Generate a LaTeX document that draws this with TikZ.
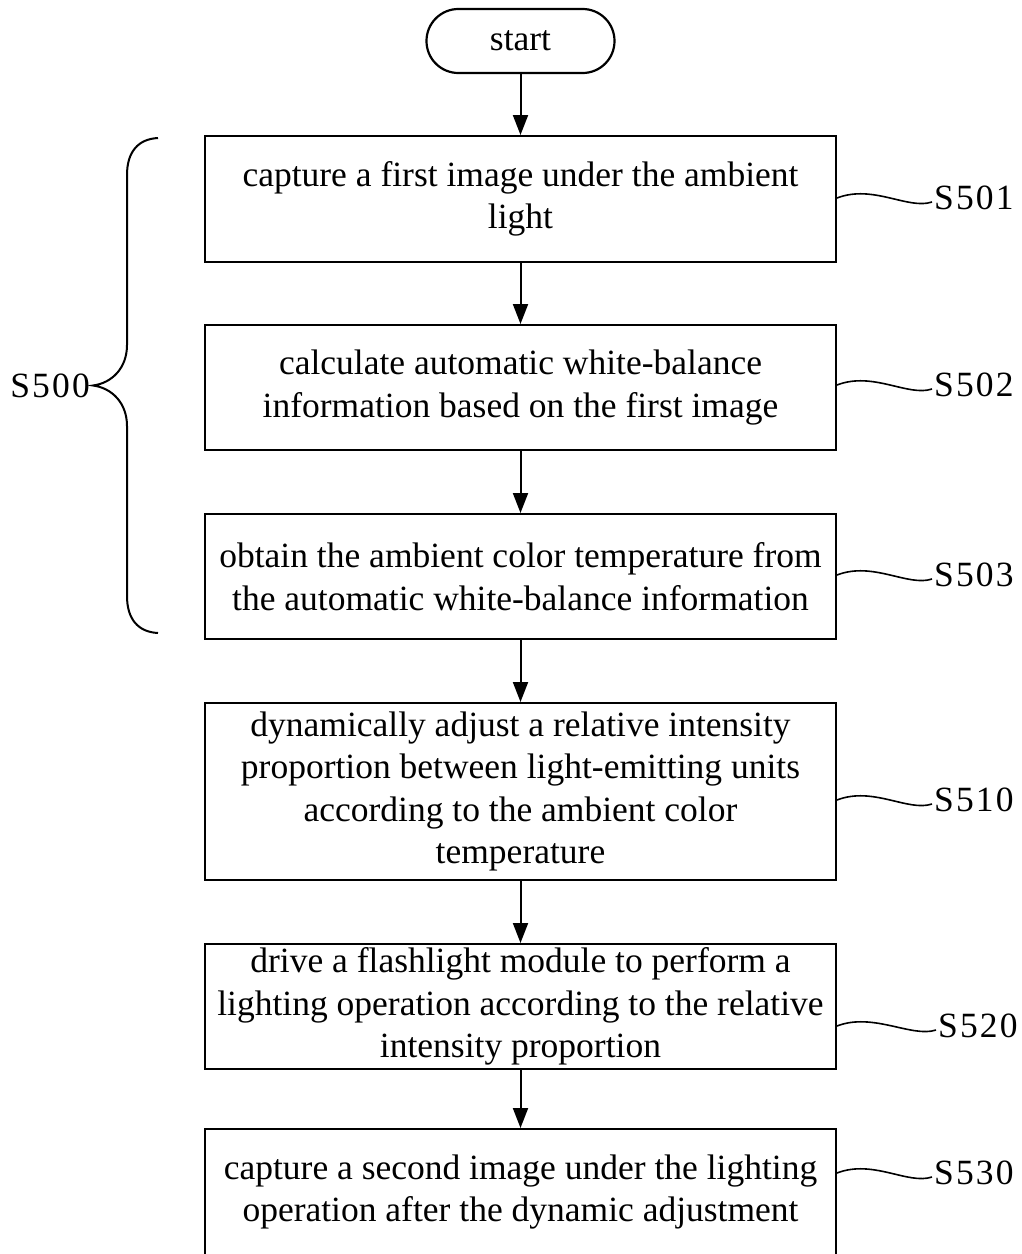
\documentclass[tikz,border=0pt]{standalone}
\usepackage{fontspec}
\setmainfont{Liberation Serif}
\newfontfamily\tagfont[LetterSpace=6]{Liberation Serif}
\usetikzlibrary{arrows.meta,calc}
\begin{document}
\begin{tikzpicture}[x=1pt,y=-1pt,
  every node/.style={font=\fontsize{35.5}{42.5}\selectfont},
  stepbox/.style={draw,line width=2pt,minimum width=631pt,align=center,inner sep=0pt},
  term/.style={draw,line width=2.2pt,rounded corners=31.9pt,minimum width=188pt,minimum height=64pt,inner sep=0pt},
  flow/.style={line width=2pt,-{Triangle[length=20pt,width=15pt]}},
  tag/.style={anchor=west,inner xsep=2pt,inner ysep=0pt,font=\tagfont\fontsize{35.5}{42.5}\selectfont},
  wave/.style={line width=1.6pt},
  brace/.style={line width=2pt}]
\useasboundingbox (0,0) rectangle (1021,1254);

% start terminator
\node[term] (start) at (520.5,41) {start};

% process steps
\node[stepbox,minimum height=126pt] (b501) at (520.5,199)
  {capture a first image under the ambient\\light};
\node[stepbox,minimum height=125pt] (b502) at (520.5,387.5)
  {calculate automatic white-balance\\information based on the first image};
\node[stepbox,minimum height=125pt] (b503) at (520.5,576.5)
  {obtain the ambient color temperature from\\the automatic white-balance information};
\node[stepbox,minimum height=177pt] (b510) at (520.5,791.5)
  {dynamically adjust a relative intensity\\proportion between light-emitting units\\according to the ambient color\\temperature};
\node[stepbox,minimum height=125pt] (b520) at (520.5,1006.5)
  {drive a flashlight module to perform a\\lighting operation according to the relative\\intensity proportion};
\node[stepbox,minimum height=126pt] (b530) at (520.5,1192)
  {capture a second image under the lighting\\operation after the dynamic adjustment};

% flow arrows
\draw[flow] (start.south) -- (b501.north);
\draw[flow] (b501.south) -- (b502.north);
\draw[flow] (b502.south) -- (b503.north);
\draw[flow] (b503.south) -- (b510.north);
\draw[flow] (b510.south) -- (b520.north);
\draw[flow] (b520.south) -- (b530.north);

% step labels with wavy leaders
\node[tag] (s501) at (932,198) {S501};
\node[tag] (s502) at (932,385) {S502};
\node[tag] (s503) at (932,575) {S503};
\node[tag] (s510) at (932,800) {S510};
\node[tag] (s520) at (936,1026) {S520};
\node[tag] (s530) at (932,1173) {S530};

\coordinate (w501) at (b501.east |- 0,198);
\coordinate (w502) at (b502.east |- 0,385);
\coordinate (w503) at (b503.east |- 0,575);
\coordinate (w510) at (b510.east |- 0,800);
\coordinate (w520) at (b520.east |- 0,1026);
\coordinate (w530) at (b530.east |- 0,1173);

\foreach \k in {501,502,503,510,520,530}
  \draw[wave] (w\k) .. controls +(36,-14) and +(-24,8) .. ([yshift=-4pt]s\k.west);

% group brace for S500
\node[tag,anchor=east,inner sep=0pt] (s500) at (90,385.5) {S500};
\coordinate (tip) at (93,385.5);
\draw[brace] (158,138) .. controls (138,139) and (127,152) .. (127,175)
  -- (127,345) .. controls (127,368) and (112,383) .. (tip)
  .. controls (112,388) and (127,403) .. (127,426)
  -- (127,596) .. controls (127,619) and (138,632) .. (158,633);
\end{tikzpicture}
\end{document}
